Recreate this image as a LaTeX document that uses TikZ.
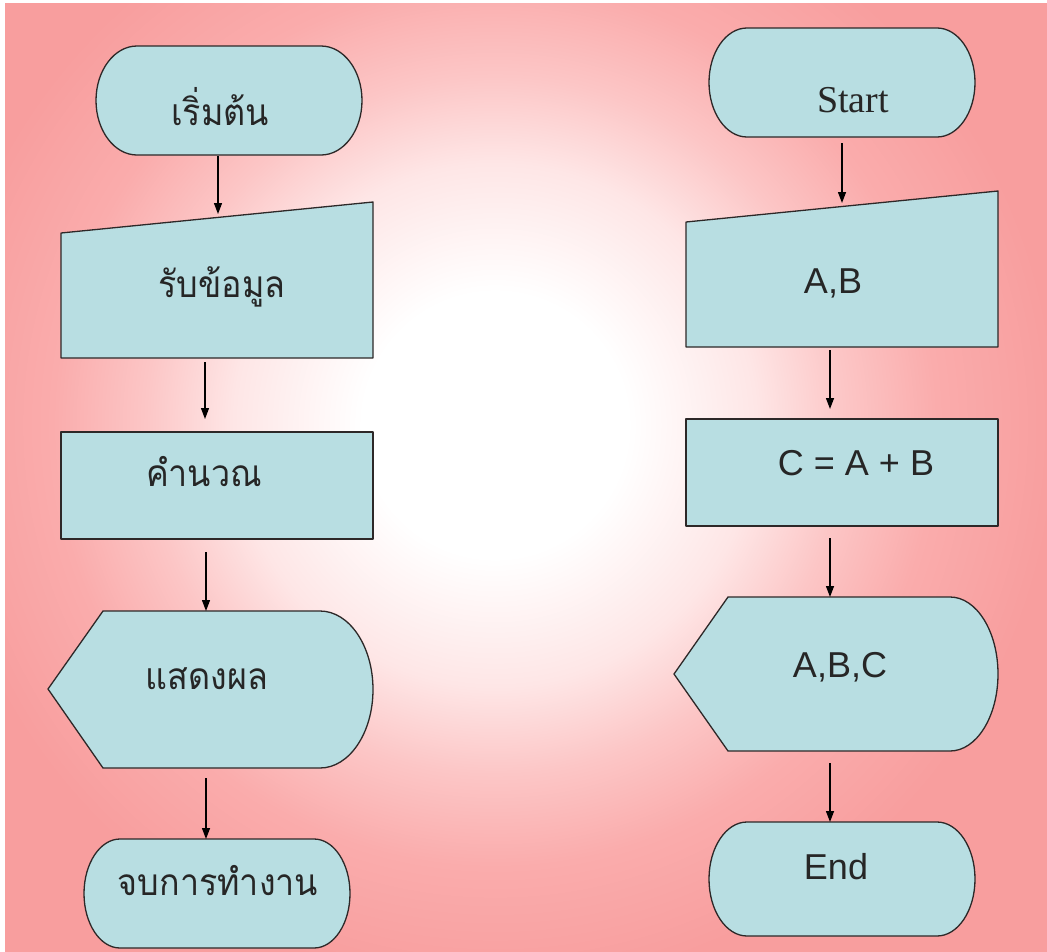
\documentclass[tikz,border=0pt]{standalone}
\usepackage{fontspec}
\setmainfont{Liberation Serif}
\setsansfont{Liberation Sans}
\newfontfamily\thaifont[Script=Thai,FakeStretch=0.92]{Loma}
\usetikzlibrary{arrows.meta}
\definecolor{bgdeep}{RGB}{248,158,158}
\definecolor{bgpink}{RGB}{250,172,172}
\definecolor{bgpinkmid}{RGB}{252,198,198}
\definecolor{bglight}{RGB}{254,230,230}
\definecolor{boxfill}{RGB}{184,222,226}
\definecolor{boxline}{RGB}{45,40,40}
\pgfdeclareradialshading{bgshade}{\pgfpoint{0bp}{0bp}}{%
  color(0bp)=(white); color(11bp)=(white); color(21.7bp)=(bglight);
  color(29bp)=(bgpinkmid); color(36.7bp)=(bgpink); color(46.7bp)=(bgdeep); color(75bp)=(bgdeep)}
\begin{document}
\begin{tikzpicture}[x=1pt,y=-1pt,
  shapebox/.style={fill=boxfill,draw=boxline,line width=1.3pt,line join=round},
  flowarrow/.style={draw=black,line width=1.3pt,-{Triangle[length=11pt,width=8pt]}},
  thailabel/.style={font=\thaifont\fontsize{37}{40}\selectfont,text=black!85,inner sep=0pt},
  latinlabel/.style={font=\sffamily\fontsize{36}{40}\selectfont,text=black!85,inner sep=0pt},
  serifabel/.style={font=\rmfamily\fontsize{38}{42}\selectfont,text=black!85,inner sep=0pt}]
\useasboundingbox (0,0) rectangle (1047,951);
\fill[white] (0,0) rectangle (1047,951);
\fill[bgdeep] (5,3) rectangle (1047,951);
\begin{scope}
\clip (5,3) rectangle (1047,951);
\pgftransformshift{\pgfpointxy{495}{425}}
\pgftransformscale{12}
\pgflowlevelsynccm
\pgfuseshading{bgshade}
\end{scope}

% ---------------- left column shapes ----------------
\path[shapebox] (137,46) -- (321,46) arc[start angle=-90,end angle=90,x radius=41,y radius=54.5]
  -- (137,155) arc[start angle=90,end angle=270,x radius=41,y radius=54.5] -- cycle;
\path[shapebox] (61,233) -- (373,202) -- (373,358) -- (61,358) -- cycle;
\path[shapebox] (61,432) rectangle (373,539);
\path[shapebox] (103,611) -- (320,611) arc[start angle=-90,end angle=90,x radius=53,y radius=78.5]
  -- (103,768) -- (48,689) -- cycle;
\path[shapebox] (120,839) -- (314,839) arc[start angle=-90,end angle=90,x radius=36,y radius=54.5]
  -- (120,948) arc[start angle=90,end angle=270,x radius=36,y radius=54.5] -- cycle;

% ---------------- right column shapes ----------------
\path[shapebox] (747,28) -- (937,28) arc[start angle=-90,end angle=90,x radius=38,y radius=54.5]
  -- (747,137) arc[start angle=90,end angle=270,x radius=38,y radius=54.5] -- cycle;
\path[shapebox] (686,222) -- (998,191) -- (998,347) -- (686,347) -- cycle;
\path[shapebox] (686,419) rectangle (998,526);
\path[shapebox] (728,597) -- (950,597) arc[start angle=-90,end angle=90,x radius=48,y radius=77]
  -- (728,751) -- (674,674) -- cycle;
\path[shapebox] (747,822) -- (937,822) arc[start angle=-90,end angle=90,x radius=38,y radius=57]
  -- (747,936) arc[start angle=90,end angle=270,x radius=38,y radius=57] -- cycle;

% ---------------- labels ----------------
\node[thailabel] (lstart) at (220,107) {เริ่มต้น};
\node[thailabel] (linput) at (222,287) {รับข้อมูล};
\node[thailabel] (lproc) at (204,472) {คำนวณ};
\node[thailabel] (lout) at (207,679) {แสดงผล};
\node[thailabel] (lend) at (218,881) {จบการทำงาน};

\node[serifabel] (rstart) at (853,100) {Start};
\node[latinlabel] (rinput) at (833,283) {A,B};
\node[latinlabel] (rproc) at (856,463) {C = A + B};
\node[latinlabel] (rout) at (840,667) {A,B,C};
\node[latinlabel] (rend) at (836,867) {End};

% ---------------- connector end points ----------------
\coordinate (la1) at (218,156); \coordinate (lb1) at (218,214);
\coordinate (la2) at (205,362); \coordinate (lb2) at (205,419);
\coordinate (la3) at (206,552); \coordinate (lb3) at (206,611);
\coordinate (la4) at (206,778); \coordinate (lb4) at (206,839);

\coordinate (ra1) at (842,143); \coordinate (rb1) at (842,203);
\coordinate (ra2) at (830,350); \coordinate (rb2) at (830,409);
\coordinate (ra3) at (830,538); \coordinate (rb3) at (830,597);
\coordinate (ra4) at (830,763); \coordinate (rb4) at (830,822);

\draw[flowarrow] (la1) -- (lb1);
\draw[flowarrow] (la2) -- (lb2);
\draw[flowarrow] (la3) -- (lb3);
\draw[flowarrow] (la4) -- (lb4);
\draw[flowarrow] (ra1) -- (rb1);
\draw[flowarrow] (ra2) -- (rb2);
\draw[flowarrow] (ra3) -- (rb3);
\draw[flowarrow] (ra4) -- (rb4);
\end{tikzpicture}
\end{document}
